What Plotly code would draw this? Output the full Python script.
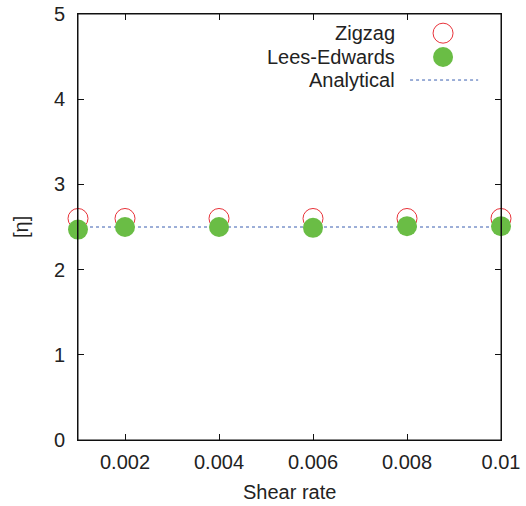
import plotly.graph_objects as go

shear_rate = [0.001, 0.002, 0.004, 0.006, 0.008, 0.01]
zigzag = [2.60, 2.60, 2.60, 2.60, 2.60, 2.60]
lees_edwards = [2.47, 2.50, 2.50, 2.49, 2.51, 2.51]
analytical_x = [0.001, 0.01]
analytical = [2.5, 2.5]
x_ticks = [0.002, 0.004, 0.006, 0.008, 0.01]
x_tick_labels = ["0.002", "0.004", "0.006", "0.008", "0.01"]
y_ticks = [0, 1, 2, 3, 4, 5]

RED = "#e8333a"
GREEN = "#6abd45"
BLUE = "#3a5fb0"
FONT = "Liberation Sans, Arial, sans-serif"
TXT = "#222222"
FRAME = "#111111"

fig = go.Figure()
fig.add_trace(go.Scatter(x=analytical_x, y=analytical, mode="lines",
                         line=dict(color=BLUE, width=1, dash="dot"),
                         name="Analytical", showlegend=False))
fig.add_trace(go.Scatter(x=shear_rate, y=zigzag, mode="markers",
                         marker=dict(symbol="circle-open", size=20, color=RED,
                                     line=dict(width=1, color=RED)),
                         name="Zigzag", showlegend=False, cliponaxis=False))
fig.add_trace(go.Scatter(x=shear_rate, y=lees_edwards, mode="markers",
                         marker=dict(symbol="circle", size=20, color=GREEN,
                                     line=dict(width=0)),
                         name="Lees-Edwards", showlegend=False, cliponaxis=False))

# custom legend (text left of symbol) on an overlay axis spanning the plot area
leg_names = ["Zigzag", "Lees-Edwards", "Analytical"]
leg_y = [0.955, 0.899, 0.845]
fig.add_trace(go.Scatter(x=[0.863], y=[leg_y[0]], xaxis="x2", yaxis="y2", mode="markers",
                         marker=dict(symbol="circle-open", size=20, color=RED, line=dict(width=1, color=RED)),
                         showlegend=False, hoverinfo="skip"))
fig.add_trace(go.Scatter(x=[0.863], y=[leg_y[1]], xaxis="x2", yaxis="y2", mode="markers",
                         marker=dict(symbol="circle", size=20, color=GREEN),
                         showlegend=False, hoverinfo="skip"))
fig.add_trace(go.Scatter(x=[0.785, 0.946], y=[leg_y[2], leg_y[2]], xaxis="x2", yaxis="y2", mode="lines",
                         line=dict(color=BLUE, width=1, dash="dot"),
                         showlegend=False, hoverinfo="skip"))
for name, yy in zip(leg_names, leg_y):
    fig.add_annotation(x=0.754, y=yy, xref="x2", yref="y2", text=name, showarrow=False,
                       xanchor="right", yanchor="middle",
                       font=dict(family=FONT, size=20, color=TXT))

# axis titles
fig.add_annotation(x=0.5, y=-(492 - 440) / 426, xref="paper", yref="paper", text="Shear rate",
                   showarrow=False, font=dict(family=FONT, size=20, color=TXT), yanchor="middle")
fig.add_annotation(x=-(78 - 21) / 423, y=0.5, xref="paper", yref="paper", text="[η]", showarrow=False,
                   textangle=-90, font=dict(family=FONT, size=20, color=TXT),
                   xanchor="center", yanchor="middle")

# plot frame
fig.add_shape(type="rect", xref="paper", yref="paper", x0=0, x1=1, y0=0, y1=1,
              line=dict(color=FRAME, width=1), fillcolor="rgba(0,0,0,0)", layer="above")

axis_common = dict(showline=True, linecolor=FRAME, linewidth=1, mirror="ticks",
                   ticks="inside", ticklen=6, tickwidth=1, tickcolor=FRAME, showgrid=False,
                   zeroline=False, automargin=False, layer="above traces",
                   tickfont=dict(family=FONT, size=20, color=TXT))

fig.update_layout(
    width=526, height=506,
    margin=dict(l=78, r=25, t=14, b=66),
    paper_bgcolor="white", plot_bgcolor="white",
    showlegend=False,
    xaxis=dict(range=[0.001, 0.01], tickvals=x_ticks, ticktext=x_tick_labels,
               ticklabelstandoff=4, **axis_common),
    yaxis=dict(range=[0, 5], tickvals=y_ticks, ticklabelstandoff=8, **axis_common),
    xaxis2=dict(overlaying="x", range=[0, 1], visible=False, fixedrange=True),
    yaxis2=dict(overlaying="y", range=[0, 1], visible=False, fixedrange=True),
)

fig.write_html("out.html", config={"displayModeBar": False},
               post_script="document.body.style.margin='0';document.body.style.overflow='hidden';")
